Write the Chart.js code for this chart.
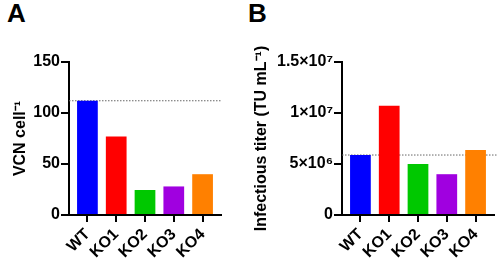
<!DOCTYPE html>
<html>
<head>
<meta charset="utf-8">
<script src="https://cdn.jsdelivr.net/npm/chart.js@4/dist/chart.umd.min.js"></script>
<style>
  body { margin: 0; background: #fff; width: 498px; height: 267px; overflow: hidden; position: relative; }
  canvas { position: absolute; top: 0; }
  #chartA { left: 0; }
  #chartB { left: 246px; }
  .panel { position: absolute; top: -2px; font: bold 26px "Liberation Sans", Arial, sans-serif; color: #000; }
</style>
</head>
<body>
<div class="panel" style="left:7px">A</div>
<div class="panel" style="left:248px">B</div>
<canvas id="chartA" width="246" height="267"></canvas>
<canvas id="chartB" width="252" height="267"></canvas>
<script>
const categories = ["WT", "KO1", "KO2", "KO3", "KO4"];
const barColors = ["#0000ff", "#ff0000", "#00c800", "#a000e0", "#ff8000"];

const vcnValues = [112, 77, 24.5, 28, 40];
const vcnTicks = [0, 50, 100, 150];
const vcnTickLabels = ["0", "50", "100", "150"];
const vcnReference = 112;

const titerValues = [5.88e6, 1.07e7, 5.0e6, 4.0e6, 6.37e6];
const titerTicks = [0, 5e6, 1e7, 1.5e7];
const titerTickLabels = ["0", "5\u00d710\u2076", "1\u00d710\u2077", "1.5\u00d710\u2077"];
const titerReference = 5.88e6;

Chart.defaults.color = "#000";
Chart.defaults.font.family = "'Liberation Sans', Arial, sans-serif";
Chart.defaults.font.weight = "bold";
Chart.defaults.font.size = 16;

const xMin = -0.64, xMax = 4.64;

function makeChart(id, opts) {
    const ctx = document.getElementById(id).getContext("2d");
    return new Chart(ctx, {
        data: {
            datasets: [{
                type: "bar",
                data: opts.values.map((v, i) => ({ x: i, y: v })),
                backgroundColor: barColors,
                borderWidth: 0
            }, {
                type: "line",
                data: [{ x: xMin, y: opts.reference }, { x: opts.lineEnd, y: opts.reference }],
                borderColor: "#666",
                borderWidth: 1,
                borderDash: [1.5, 1.5],
                pointRadius: 0,
                clip: false
            }]
        },
        options: {
            responsive: false,
            animation: false,
            layout: { padding: { left: opts.padLeft, right: opts.padRight, top: 62, bottom: 0 } },
            plugins: { legend: { display: false }, tooltip: { enabled: false } },
            scales: {
                x: {
                    type: "linear",
                    min: xMin,
                    max: xMax,
                    offset: false,
                    afterBuildTicks: s => { s.ticks = categories.map((c, i) => ({ value: i })); },
                    afterFit: s => { s.height = 52; s.paddingLeft = 0; s.paddingRight = 0; },
                    ticks: {
                        callback: v => categories[v],
                        autoSkip: false,
                        minRotation: 45,
                        maxRotation: 45,
                        padding: 3,
                        font: { size: 16 }
                    },
                    grid: { offset: false, drawOnChartArea: false, drawTicks: true, tickLength: 7, color: "#000", lineWidth: 2 },
                    border: { display: true, color: "#000", width: 2 }
                },
                y: {
                    min: 0,
                    max: opts.ticks[opts.ticks.length - 1],
                    afterBuildTicks: s => { s.ticks = opts.ticks.map(v => ({ value: v })); },
                    afterFit: s => { s.width = opts.axisWidth; },
                    ticks: {
                        callback: (v, i) => opts.tickLabels[i],
                        padding: 1
                    },
                    grid: { drawOnChartArea: false, drawTicks: true, tickLength: 8, color: "#000", lineWidth: 2 },
                    border: { display: true, color: "#000", width: 2 },
                    title: {
                        display: true,
                        text: opts.title,
                        padding: 0,
                        font: { size: 16 }
                    }
                }
            }
        }
    });
}

makeChart("chartA", {
    values: vcnValues,
    reference: vcnReference,
    ticks: vcnTicks,
    tickLabels: vcnTickLabels,
    title: "VCN cell\u207b\u00b9",
    lineEnd: xMax,
    padLeft: 11,
    padRight: 25,
    axisWidth: 58
});

makeChart("chartB", {
    values: titerValues,
    reference: titerReference,
    ticks: titerTicks,
    tickLabels: titerTickLabels,
    title: "Infectious titer (TU mL\u207b\u00b9)",
    lineEnd: xMax + 0.15,
    padLeft: 6,
    padRight: 4,
    axisWidth: 90
});
</script>
</body>
</html>
